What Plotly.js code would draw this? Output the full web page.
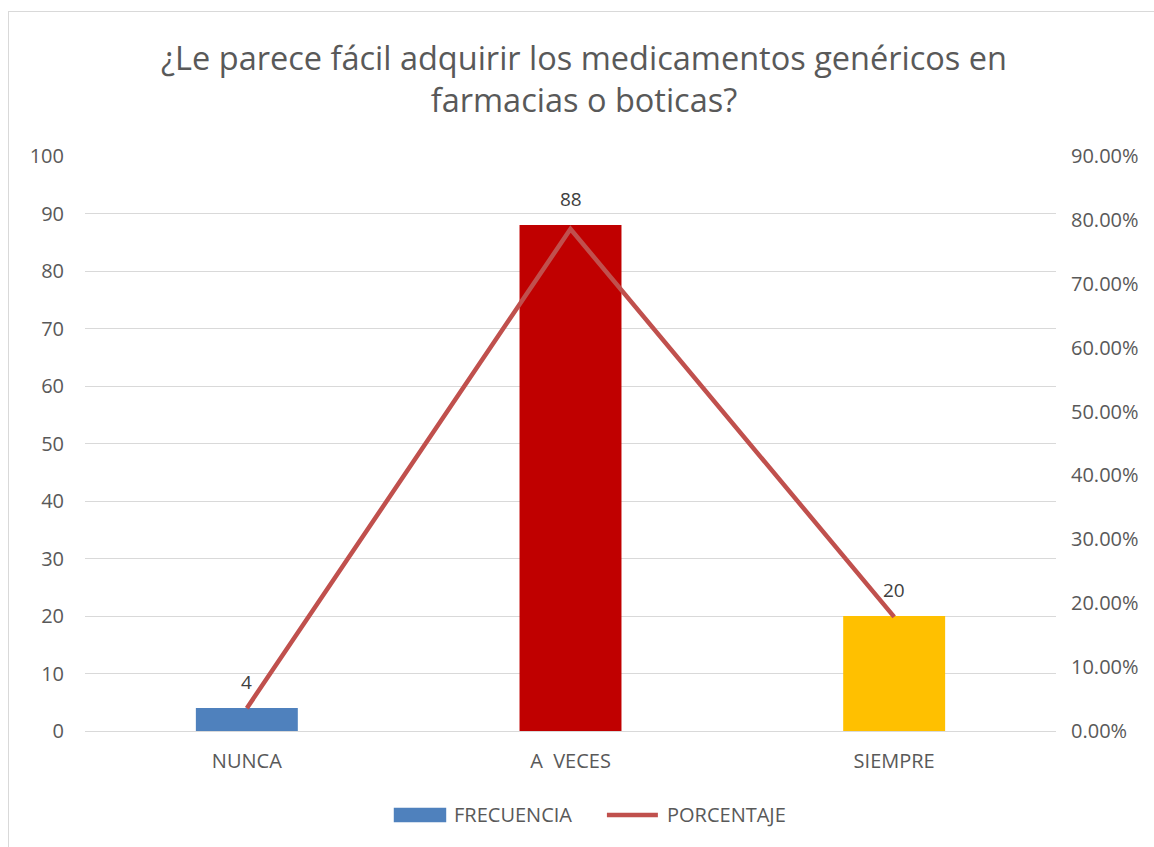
<!DOCTYPE html>
<html>
<head>
<meta charset="utf-8">
<script src="https://cdn.plot.ly/plotly-3.0.1.min.js"></script>
<style>
html,body{margin:0;padding:0;overflow:hidden;background:#fff;width:1154px;height:847px;}
#frame{position:absolute;left:8px;top:11px;width:1150px;height:840px;border:1px solid #d9d9d9;}
#chart{width:1150px;height:840px;}
</style>
</head>
<body>
<div id="frame"><div id="chart"></div></div>
<script>
const categories = ["NUNCA", "A  VECES", "SIEMPRE"];
const frecuencia = [4, 88, 20];
const porcentaje = [0.0357, 0.7857, 0.1786];
const barColors = ["#4F81BD", "#C00000", "#FFC000"];
const seriesNames = ["FRECUENCIA", "PORCENTAJE"];
const leftTicks = [0,10,20,30,40,50,60,70,80,90,100];
const rightTicks = [0,0.1,0.2,0.3,0.4,0.5,0.6,0.7,0.8,0.9];
const rightTickText = ["0.00%","10.00%","20.00%","30.00%","40.00%","50.00%","60.00%","70.00%","80.00%","90.00%"];

const FONT = "Open Sans, sans-serif";
const GREY = "#595959";
const LINE_COLOR = "#C0504D";

const traces = [
  {
    type: "bar", name: seriesNames[0], x: categories, y: frecuencia,
    marker: {color: barColors}, hoverinfo: "none", showlegend: false
  },
  {
    type: "scatter", mode: "lines", name: seriesNames[1], x: categories, y: porcentaje,
    yaxis: "y2", line: {color: LINE_COLOR, width: 4.5}, hoverinfo: "none", showlegend: false
  }
];

const annotations = categories.map((c, i) => ({
  x: c, y: frecuencia[i], xref: "x", yref: "y", text: String(frecuencia[i]),
  showarrow: false, yanchor: "bottom", yshift: 11,
  font: {family: FONT, size: 19, color: "#404040"}
}));

// custom legend
const legY = -0.146;
annotations.push({
  x: 0.378, y: legY, xref: "paper", yref: "paper", xanchor: "left", yanchor: "middle",
  text: seriesNames[0], showarrow: false, font: {family: FONT, size: 20, color: GREY}
});
annotations.push({
  x: 0.597, y: legY, xref: "paper", yref: "paper", xanchor: "left", yanchor: "middle",
  text: seriesNames[1], showarrow: false, font: {family: FONT, size: 20, color: GREY}
});
const shapes = [
  {type: "rect", xref: "paper", yref: "paper", x0: 0.318, x1: 0.372, y0: legY - 0.0125, y1: legY + 0.0125,
   fillcolor: barColors[0], line: {width: 0}},
  {type: "line", xref: "paper", yref: "paper", x0: 0.5375, x1: 0.590, y0: legY, y1: legY,
   line: {color: LINE_COLOR, width: 4.5}}
];

const layout = {
  width: 1150, height: 840,
  margin: {l: 76, r: 103, t: 144, b: 121},
  paper_bgcolor: "#fff", plot_bgcolor: "#fff",
  title: {
    text: "¿Le parece fácil adquirir los medicamentos genéricos en<br>farmacias o boticas?",
    font: {family: FONT, size: 32.5, color: GREY},
    x: 0.5, xanchor: "center", y: 0.931, yanchor: "middle", yref: "container"
  },
  bargap: 0.685,
  showlegend: false,
  xaxis: {
    showgrid: false, showline: true, linecolor: "#d9d9d9", linewidth: 1,
    ticks: "", tickfont: {family: FONT, size: 20, color: GREY}, ticklabelstandoff: 12
  },
  yaxis: {
    range: [0, 100], tickvals: leftTicks, showgrid: true, gridcolor: "#d9d9d9", gridwidth: 1,
    zeroline: false, showline: false, ticks: "",
    tickfont: {family: FONT, size: 20, color: GREY}, ticklabelstandoff: 20
  },
  yaxis2: {
    range: [0, 0.9], overlaying: "y", side: "right", tickvals: rightTicks, ticktext: rightTickText,
    showgrid: false, zeroline: false, showline: false, ticks: "",
    tickfont: {family: FONT, size: 20, color: GREY}, ticklabelstandoff: 14
  },
  annotations: annotations,
  shapes: shapes
};

Plotly.newPlot("chart", traces, layout, {displayModeBar: false, staticPlot: true});
</script>
</body>
</html>
